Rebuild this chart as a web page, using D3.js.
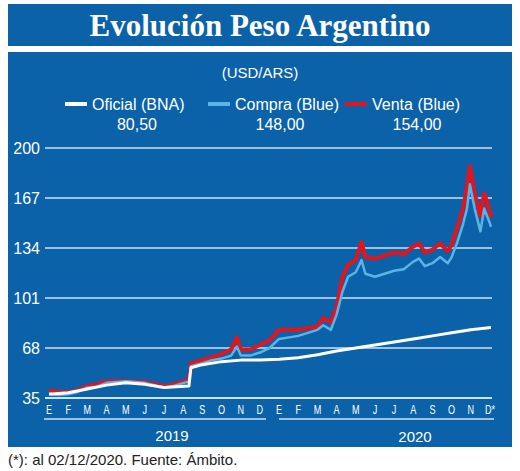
<!DOCTYPE html>
<html><head><meta charset="utf-8">
<script src="https://cdn.jsdelivr.net/npm/d3@7"></script>
<style>body{margin:0;background:#fff}svg{font-family:"Liberation Sans",Arial,sans-serif}</style>
</head><body>
<script>
// months since Jan 2019 (0 = E 2019)
var oficial = [[0,37.5],[1,38.5],[2,41],[3,43.5],[4,45],[5,44],[6,42],[7.3,43],[7.4,55],[8,57],[9,59],[10,60],[11,60],[12,60.5],[13,61.5],[14,63.5],[15,66],[16,68],[17,70],[18,72],[19,74],[20,76],[21,78],[22,80],[23.05,81.5]]
var compra = [[0,38],[0.5,37],[1,37.5],[1.5,39],[2,42],[2.5,42.5],[3,45],[4,46],[5,45],[6,42],[6.5,43],[7.3,46],[7.4,56],[8,58],[8.5,60],[9,61],[9.5,63],[9.8,69],[10,63],[10.5,63],[11,65],[11.5,68],[12,74],[13,76],[13.5,78],[14,80],[14.3,83],[14.7,80],[15,90],[15.3,105],[15.6,115],[16,118],[16.3,126],[16.5,117],[17,115],[17.5,117],[18,119],[18.5,120],[19,125],[19.3,127],[19.6,122],[20,124],[20.4,128],[20.8,124],[21,128],[21.3,138],[21.6,150],[21.8,160],[21.95,176],[22.2,160],[22.5,145],[22.7,160],[23,150],[23.05,148]]
var venta = [[0,40],[0.5,39],[1,39],[1.5,40],[2,43],[2.5,44],[3,46],[4,46],[5,45.5],[6,43],[6.5,44],[7.3,47],[7.4,58],[8,60],[8.5,62],[9,64],[9.5,67],[9.8,75],[10,67],[10.5,67],[11,70],[11.5,73],[12,80],[13,80],[13.5,81],[14,82],[14.3,88],[14.7,85],[15,95],[15.3,115],[15.6,123],[16,126],[16.3,138],[16.5,128],[17,127],[17.5,129],[18,131],[18.5,130],[19,135],[19.3,137],[19.6,131],[20,133],[20.4,137],[20.8,132],[21,136],[21.3,148],[21.6,160],[21.8,175],[21.95,188],[22.2,170],[22.5,155],[22.7,170],[23,158],[23.05,154]]
var monthLabels = ["E","F","M","A","M","J","J","A","S","O","N","D","E","F","M","A","M","J","J","A","S","O","N","D*"]
var yTicks = [35,68,101,134,167,200]
var years = ["2019","2020"]
var legendNames = ["Oficial (BNA)","Compra (Blue)","Venta (Blue)"]
var legendValues = ["80,50","148,00","154,00"]
var colors = ["#ffffff","#5ab4e8","#e3141c"]

var blue = "#0b62a8"
var svg = d3.select("body").append("svg").attr("width",520).attr("height",471)

svg.append("rect").attr("x",8).attr("y",4).attr("width",504).attr("height",42).attr("fill",blue)
svg.append("text").attr("x",260).attr("y",36).attr("text-anchor","middle").attr("fill","#fff")
  .attr("font-family","Liberation Serif,serif").attr("font-weight","bold").attr("font-size",31).text("Evolución Peso Argentino")
svg.append("rect").attr("x",8).attr("y",52).attr("width",504).attr("height",395).attr("fill",blue)
svg.append("text").attr("x",260).attr("y",78).attr("text-anchor","middle").attr("fill","#fff").attr("font-size",15).text("(USD/ARS)")

var lx = [65,208,345]
legendNames.forEach(function(n,i){
  svg.append("line").attr("x1",lx[i]).attr("x2",lx[i]+22).attr("y1",104).attr("y2",104).attr("stroke",colors[i]).attr("stroke-width",4)
  svg.append("text").attr("x",lx[i]+27).attr("y",110).attr("fill","#fff").attr("font-size",16).text(n)
  svg.append("text").attr("x",lx[i]+72).attr("y",130).attr("text-anchor","middle").attr("fill","#fff").attr("font-size",16).text(legendValues[i])
})

var x = d3.scaleLinear().domain([0,23]).range([49,490])
var y = d3.scaleLinear().domain([35,200]).range([398,148])

svg.append("g").selectAll("line").data(yTicks).enter().append("line")
  .attr("x1",45).attr("x2",492).attr("y1",function(d){return y(d)}).attr("y2",function(d){return y(d)})
  .attr("stroke","#cfe3f3").attr("stroke-width",function(d){return d==35?2:1.3})
svg.append("g").selectAll("text").data(yTicks).enter().append("text")
  .attr("x",40).attr("y",function(d){return y(d)+6}).attr("text-anchor","end").attr("fill","#fff").attr("font-size",16).text(function(d){return d})

svg.append("g").selectAll("text").data(monthLabels).enter().append("text")
  .attr("x",function(d,i){return x(i)}).attr("y",414).attr("text-anchor","middle").attr("fill","#fff")
  .attr("font-size",13).attr("transform",function(d,i){return "translate("+x(i)+",0) scale(0.7,1) translate("+(-x(i))+",0)"}).text(function(d){return d})

svg.append("line").attr("x1",44).attr("x2",266).attr("y1",419).attr("y2",419).attr("stroke","#cfe3f3").attr("stroke-width",1.5)
svg.append("line").attr("x1",279).attr("x2",494).attr("y1",419).attr("y2",419).attr("stroke","#cfe3f3").attr("stroke-width",1.5)
svg.append("text").attr("x",172).attr("y",441).attr("text-anchor","middle").attr("fill","#fff").attr("font-size",15).text(years[0])
svg.append("text").attr("x",415).attr("y",442).attr("text-anchor","middle").attr("fill","#fff").attr("font-size",15).text(years[1])

var line = d3.line().x(function(d){return x(d[0])}).y(function(d){return y(d[1])})
;[[venta,colors[2],4],[compra,colors[1],2.5],[oficial,colors[0],3]].forEach(function(s){
  svg.append("path").datum(s[0]).attr("d",line).attr("fill","none").attr("stroke",s[1]).attr("stroke-width",s[2]).attr("stroke-linejoin","round")
})

svg.append("text").attr("x",8).attr("y",465).attr("fill","#222").attr("font-size",15).text("(*): al 02/12/2020. Fuente: Ámbito.")
</script>
</body></html>
